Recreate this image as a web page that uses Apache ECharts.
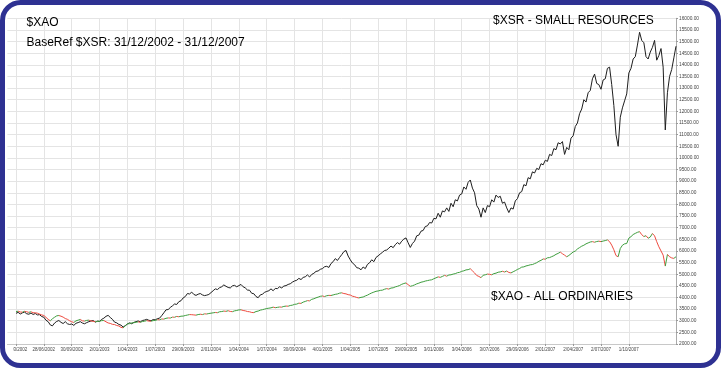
<!DOCTYPE html>
<html><head><meta charset="utf-8">
<script src="https://cdn.jsdelivr.net/npm/echarts/dist/echarts.min.js"></script>
<style>html,body{margin:0;padding:0;background:#fff}#c{width:725px;height:372px}</style>
</head><body><div id="c"></div>
<script>
// Quarterly tick labels (one every 13 weekly points)
const tickLabels = ['28/03/2002','28/06/2002','30/09/2002','2/01/2003','1/04/2003','1/07/2003','29/09/2003','2/01/2004','1/04/2004','1/07/2004','30/09/2004','4/01/2005','1/04/2005','1/07/2005','29/09/2005','3/01/2006','3/04/2006','3/07/2006','29/09/2006','2/01/2007','2/04/2007','2/07/2007','1/10/2007'];

// $XSR - Small Resources (rebased), weekly
const xsr = [
3320,3360,3290,3340,3370,3300,3280,3330,3270,3310,3250,3260,3180,
3150,3020,2960,2820,2780,2900,2970,3010,2930,2880,2960,2870,2840,
2860,2800,2890,2920,2960,2900,2870,2920,2960,2990,3010,2940,2980,
2975,3060,3110,3190,3230,3140,3060,2940,2910,2840,2810,2730,2790,
2860,2910,2870,2930,2960,2990,2950,3010,3030,3060,3020,3000,3050,
3040,3090,3110,3220,3340,3470,3480,3570,3640,3720,3700,3820,3860,
3980,4040,4170,4150,4230,4130,4090,4140,4170,4110,4080,4100,4130,
4210,4290,4370,4340,4420,4460,4540,4480,4430,4410,4500,4520,4460,
4510,4560,4460,4410,4320,4310,4180,4160,4040,3990,4110,4140,4220,
4260,4290,4370,4290,4390,4380,4460,4410,4490,4510,4560,4590,4660,
4710,4740,4820,4770,4860,4890,4970,4880,4990,5040,5120,5140,5210,
5240,5320,5340,5290,5460,5540,5670,5590,5720,5840,5970,6020,5780,
5620,5480,5410,5280,5260,5190,5310,5240,5420,5490,5620,5540,5720,
5790,5870,5940,6020,6040,6120,6210,6140,6270,6360,6290,6420,6510,
6560,6350,6150,6320,6420,6650,6680,6850,6880,7050,7080,7220,7200,
7400,7380,7620,7450,7720,7680,7850,7700,8050,7900,8200,8150,8400,
8450,8750,8650,8950,9050,8700,8500,7950,7800,7450,7850,7650,7950,
7900,8200,8100,8400,8300,8350,8050,8100,7850,7650,7850,7800,8150,
8250,8500,8550,8850,8800,9150,9100,9400,9350,9550,9500,9750,9700,
9900,9850,10150,10100,10400,10350,10650,10600,10700,10150,10450,10350,10850,
10950,11350,11500,11900,12100,12500,12400,12800,12900,13400,13600,13200,13150,
12950,13350,13400,13850,13900,13150,12250,11000,10500,11750,12150,12450,12750,
13650,13850,14250,14350,14850,15400,15050,14950,14350,14250,14550,14750,15050,
14200,14400,14700,13900,11200,12800,13500,13800,14300,14800
];

// $XAO - All Ordinaries, weekly
const xao = [
3390,3410,3375,3370,3405,3385,3360,3385,3345,3340,3325,3285,3250,
3225,3145,3060,2995,3085,3150,3210,3225,3195,3155,3095,3060,3000,
2955,2925,2995,3025,3055,2995,2985,3015,3025,2990,2975,2955,2975,
2975,3005,3010,2955,2905,2885,2845,2835,2795,2775,2715,2695,2780,
2865,2875,2905,2915,2935,2950,2935,2965,2980,3005,2985,2980,3005,
3015,3045,3040,3075,3070,3105,3120,3115,3155,3150,3185,3170,3195,
3200,3225,3245,3265,3260,3250,3240,3265,3280,3265,3295,3290,3310,
3325,3340,3355,3345,3385,3395,3415,3405,3430,3400,3390,3425,3440,
3465,3470,3440,3425,3395,3385,3355,3350,3395,3415,3455,3475,3500,
3525,3540,3555,3585,3560,3575,3590,3585,3615,3630,3625,3655,3670,
3705,3715,3755,3745,3800,3830,3865,3855,3920,3945,3985,4015,4050,
4065,4040,4075,4090,4085,4110,4135,4150,4185,4200,4170,4155,4120,
4105,4055,4035,4000,3980,4005,4020,4065,4100,4150,4195,4230,4265,
4280,4305,4315,4355,4380,4360,4405,4415,4455,4480,4515,4565,4600,
4625,4550,4480,4505,4540,4585,4615,4655,4675,4705,4725,4745,4760,
4805,4845,4885,4865,4905,4950,4915,4965,4975,5005,5025,5065,5080,
5125,5145,5185,5195,5235,5145,5055,4945,4905,4850,4955,4975,5005,
4995,4975,5025,5045,5085,5100,5125,5095,5135,5075,5055,5105,5150,
5205,5245,5305,5315,5355,5375,5405,5415,5455,5495,5555,5595,5655,
5645,5705,5715,5755,5795,5855,5895,5950,5880,5820,5750,5805,5880,
5955,5995,6085,6145,6205,6245,6305,6345,6385,6400,6375,6405,6420,
6400,6425,6445,6475,6400,6250,6050,5800,5750,6105,6245,6305,6320,
6550,6615,6705,6755,6800,6830,6700,6620,6655,6545,6600,6750,6650,
6400,6180,6000,5820,5350,5850,5750,5700,5680,5750
];

const WEEKS_PER_TICK = 13;
const LEAD = 4; // empty weeks before the first point

const total = LEAD + xsr.length;
const tickOf = k => { const j = k - LEAD; if (j < 0 || j % WEEKS_PER_TICK) return -1; const t = j / WEEKS_PER_TICK; return t < tickLabels.length ? t : -1; };
const categories = [];
for (let k = 0; k < total; k++) { const t = tickOf(k); categories.push(t >= 0 ? tickLabels[t] : 'w' + k); }
const showTick = (k) => tickOf(k) >= 0;

const xsrData = new Array(LEAD).fill(null).concat(xsr);
const xaoSegs = [];
for (let i = 0; i < xao.length - 1; i++) xaoSegs.push([i + LEAD, xao[i], xao[i + 1]]);

const FONT = '"Liberation Sans", Arial, sans-serif';
const chart = echarts.init(document.getElementById('c'), null, {renderer: 'canvas'});
chart.setOption({
  animation: false,
  backgroundColor: '#fff',
  grid: {left: 7.43, right: 49, top: 18.3, bottom: 28, containLabel: false},
  xAxis: {
    type: 'category', data: categories, boundaryGap: false,
    axisLine: {show: true, lineStyle: {color: '#c8c8c8', width: 1}},
    axisTick: {show: true, interval: showTick, length: 2, lineStyle: {color: '#999'}},
    axisLabel: {interval: showTick, fontSize: 4.5, color: '#444', fontFamily: FONT, margin: 3},
    splitLine: {show: true, interval: showTick, lineStyle: {color: '#e4e4e4', width: 1}}
  },
  yAxis: {
    type: 'value', position: 'right', min: 2000, max: 16000, interval: 500,
    axisLine: {show: true, lineStyle: {color: '#aaa'}},
    axisTick: {show: true, length: 2, lineStyle: {color: '#999'}},
    axisLabel: {fontSize: 4.8, color: '#444', fontFamily: FONT, margin: 3, formatter: v => v.toFixed(2)},
    splitLine: {show: true, lineStyle: {color: '#e4e4e4', width: 1}}
  },
  series: [
    {name: '$XSR', type: 'line', data: xsrData, showSymbol: false, symbol: 'none',
     lineStyle: {color: '#1e1e1e', width: 1}, z: 2},
    {name: '$XAO', type: 'custom', data: xaoSegs, z: 3,
     encode: {x: 0, y: [1, 2]},
     renderItem: (params, api) => {
       const i = api.value(0), a = api.value(1), b = api.value(2);
       const p1 = api.coord([i, a]), p2 = api.coord([i + 1, b]);
       return {type: 'line', shape: {x1: p1[0], y1: p1[1], x2: p2[0], y2: p2[1]},
               style: {stroke: b >= a ? '#3e9e3e' : '#ee4b3f', lineWidth: 1}};
     }}
  ],
  graphic: [
    {type: 'text', x: 26.5, y: 22.5, z: 50, style: {text: '$XAO', font: '12px ' + FONT, fill: '#000', verticalAlign: 'middle'}},
    {type: 'text', x: 26.5, y: 42.5, z: 50, style: {text: 'BaseRef $XSR: 31/12/2002 - 31/12/2007', font: '12px ' + FONT, fill: '#000', verticalAlign: 'middle'}},
    {type: 'text', x: 493, y: 21, z: 50, style: {text: '$XSR - SMALL RESOURCES', font: '12px ' + FONT, fill: '#000', verticalAlign: 'middle'}},
    {type: 'text', x: 491, y: 296.5, z: 50, style: {text: '$XAO - ALL ORDINARIES', font: '12px ' + FONT, fill: '#000', verticalAlign: 'middle'}},
    {type: 'rect', z: 99, shape: {x: 5, y: 346, width: 8, height: 10}, style: {fill: '#fff'}},
    {type: 'rect', z: 100, shape: {x: 2.5, y: 2.5, width: 716, height: 363, r: 18}, style: {fill: 'transparent', stroke: '#2e3192', lineWidth: 5}}
  ]
});
</script></body></html>
